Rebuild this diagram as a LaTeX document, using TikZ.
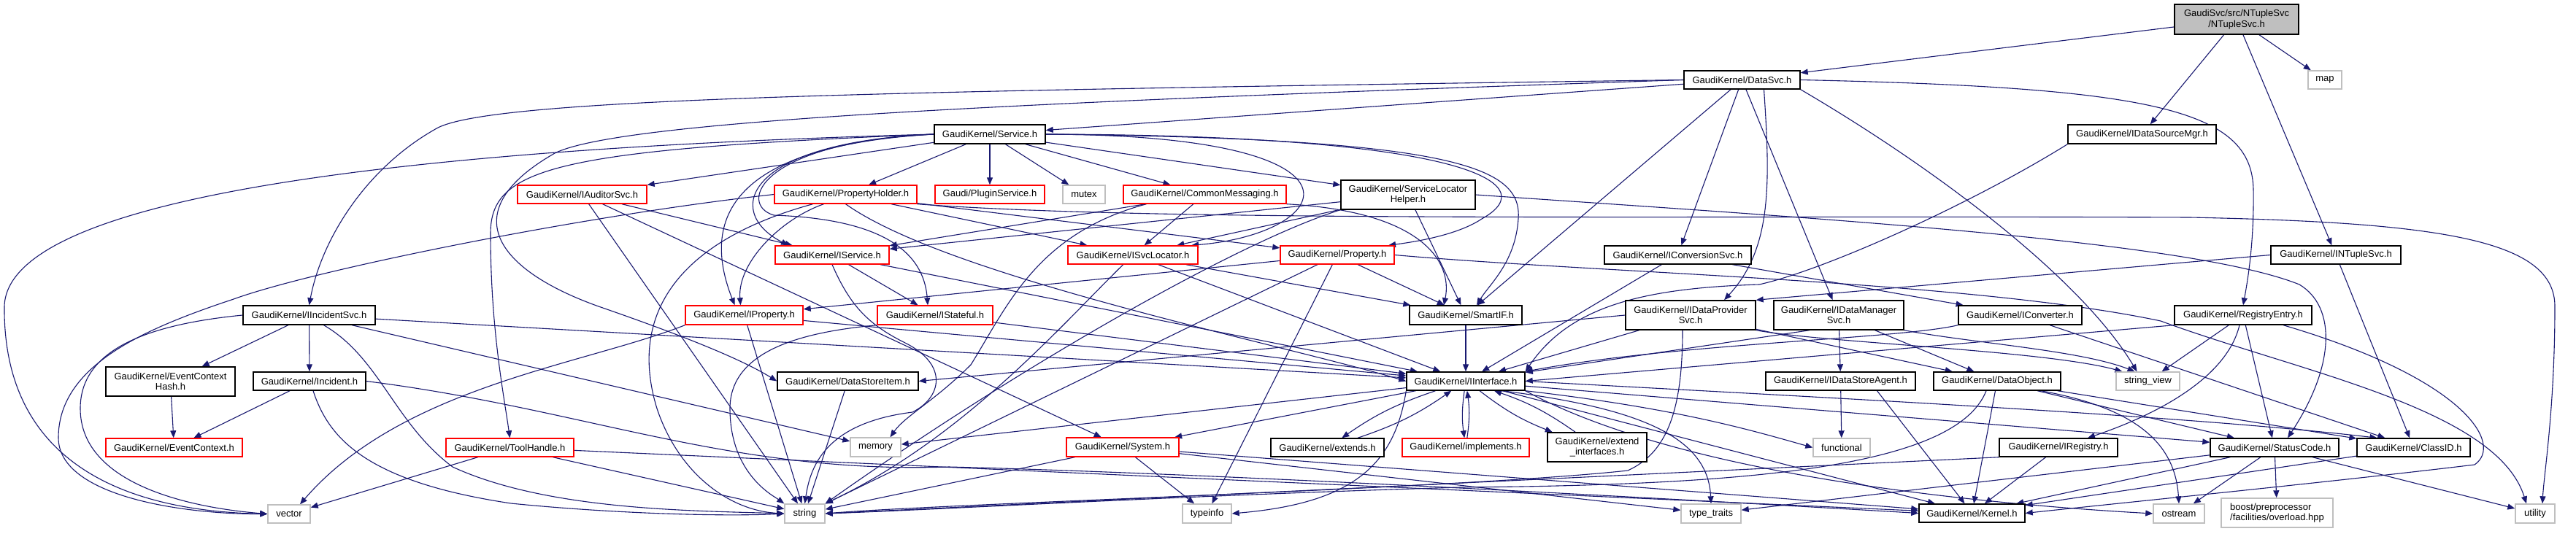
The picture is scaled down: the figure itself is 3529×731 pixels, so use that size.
\documentclass[tikz,border=0pt]{standalone}
\usepackage{fontspec}
\setmainfont{Liberation Sans}
\usetikzlibrary{arrows.meta}
\definecolor{edgec}{HTML}{191970}
\definecolor{grayc}{HTML}{BFBFBF}
\pgfdeclarelayer{bglayer}
\pgfdeclarelayer{edgelayer}
\pgfsetlayers{bglayer,edgelayer,main}
\tikzset{
  box/.style={draw=black, line width=1.4pt, fill=white, inner sep=0pt, align=center, font=\fontsize{13}{14.5}\selectfont},
  rbox/.style={box, draw=red},
  gbox/.style={box, draw=grayc},
  sz/.style 2 args={minimum width=#1pt, minimum height=#2pt},
  e/.style={draw=edgec, line width=1.1pt, -{Triangle[length=10pt,width=8pt]}},
}
\begin{document}
\begin{tikzpicture}[x=1pt,y=-1pt]
\useasboundingbox (0,0) rectangle (3529,731);
\begin{pgfonlayer}{bglayer}
\fill[white] (0,0) rectangle (3529,731);
\end{pgfonlayer}
% nodes
\node[box, fill=grayc, sz={170}{41}] (root) at (3064,26.5) {GaudiSvc/src/NTupleSvc\\/NTupleSvc.h};
\node[box, sz={159}{25}] (datasvc) at (2386.5,109.5) {GaudiKernel/DataSvc.h};
\node[gbox, sz={46}{25}] (map) at (3185,109.5) {map};
\node[box, sz={152}{26}] (service) at (1356,184) {GaudiKernel/Service.h};
\node[box, sz={203}{26}] (idsm) at (2934.5,184) {GaudiKernel/IDataSourceMgr.h};
\node[rbox, sz={177}{25}] (iaud) at (797.5,266.5) {GaudiKernel/IAuditorSvc.h};
\node[rbox, sz={195}{25}] (propholder) at (1158.5,266.5) {GaudiKernel/PropertyHolder.h};
\node[rbox, sz={150}{25}] (pluginsvc) at (1356,266.5) {Gaudi/PluginService.h};
\node[gbox, sz={58}{25}] (mutex) at (1485,266.5) {mutex};
\node[rbox, sz={223}{25}] (commsg) at (1650.5,266.5) {GaudiKernel/CommonMessaging.h};
\node[box, sz={184}{40}] (slh) at (1929,267) {GaudiKernel/ServiceLocator\\Helper.h};
\node[rbox, sz={156}{25}] (iservice) at (1140,349.5) {GaudiKernel/IService.h};
\node[rbox, sz={178}{25}] (isvcloc) at (1552,349.5) {GaudiKernel/ISvcLocator.h};
\node[rbox, sz={156}{25}] (property) at (1832,349.5) {GaudiKernel/Property.h};
\node[box, sz={201}{25}] (iconvsvc) at (2298.5,349.5) {GaudiKernel/IConversionSvc.h};
\node[box, sz={178}{25}] (intuplesvc) at (3200,349.5) {GaudiKernel/INTupleSvc.h};
\node[box, sz={181}{26}] (iincsvc) at (423.5,432) {GaudiKernel/IIncidentSvc.h};
\node[rbox, sz={161}{26}] (iproperty) at (1019.5,432) {GaudiKernel/IProperty.h};
\node[rbox, sz={158}{26}] (istateful) at (1281,432) {GaudiKernel/IStateful.h};
\node[box, sz={154}{26}] (smartif) at (2008,432) {GaudiKernel/SmartIF.h};
\node[box, sz={178}{40}] (idps) at (2316,432) {GaudiKernel/IDataProvider\\Svc.h};
\node[box, sz={178}{40}] (idms) at (2519,432) {GaudiKernel/IDataManager\\Svc.h};
\node[box, sz={169}{26}] (iconverter) at (2767.5,432) {GaudiKernel/IConverter.h};
\node[box, sz={188}{26}] (regentry) at (3073,432) {GaudiKernel/RegistryEntry.h};
\node[box, sz={177}{40}] (echash) at (233.5,523) {GaudiKernel/EventContext\\Hash.h};
\node[box, sz={154}{25}] (incident) at (424,522.5) {GaudiKernel/Incident.h};
\node[box, sz={193}{25}] (dsitem) at (1161.5,522.5) {GaudiKernel/DataStoreItem.h};
\node[box, sz={162}{25}] (iinterface) at (2008,522.5) {GaudiKernel/IInterface.h};
\node[box, sz={205}{25}] (idsagent) at (2521.5,522.5) {GaudiKernel/IDataStoreAgent.h};
\node[box, sz={174}{25}] (dataobject) at (2736,522.5) {GaudiKernel/DataObject.h};
\node[gbox, sz={87}{25}] (stringview) at (2942.5,522.5) {string\_view};
\node[rbox, sz={187}{25}] (evctx) at (238.5,613.5) {GaudiKernel/EventContext.h};
\node[rbox, sz={175}{25}] (toolhandle) at (698.5,613.5) {GaudiKernel/ToolHandle.h};
\node[gbox, sz={69}{26}] (memory) at (1199.5,613) {memory};
\node[rbox, sz={154}{26}] (system) at (1538,613) {GaudiKernel/System.h};
\node[box, sz={155}{25}] (extends) at (1818.5,613.5) {GaudiKernel/extends.h};
\node[rbox, sz={174}{25}] (implements) at (2008,613.5) {GaudiKernel/implements.h};
\node[box, sz={136}{40}] (extint) at (2188,613) {GaudiKernel/extend\\\_interfaces.h};
\node[gbox, sz={78}{25}] (functional) at (2523,613.5) {functional};
\node[box, sz={162}{25}] (iregistry) at (2820,613.5) {GaudiKernel/IRegistry.h};
\node[box, sz={176}{25}] (statuscode) at (3116,613.5) {GaudiKernel/StatusCode.h};
\node[box, sz={155}{25}] (classid) at (3306.5,613.5) {GaudiKernel/ClassID.h};
\node[gbox, sz={58}{25}] (vector) at (396,704.5) {vector};
\node[gbox, sz={55}{26}] (string) at (1102.5,704) {string};
\node[gbox, sz={67}{26}] (typeinfo) at (1653.5,704) {typeinfo};
\node[gbox, sz={82}{26}] (typetraits) at (2344,704) {type\_traits};
\node[box, sz={145}{25}] (kernel) at (2701.5,703.5) {GaudiKernel/Kernel.h};
\node[gbox, sz={70}{26}] (ostream) at (2985,704) {ostream};
\node[gbox, sz={153}{40}, align=left] (boost) at (3119.5,703) {boost/preprocessor\\/facilities/overload.hpp};
\node[gbox, sz={54}{26}] (utility) at (3473,704) {utility};

\begin{pgfonlayer}{edgelayer}
% root
\draw[e] (root) -- (datasvc);
\draw[e] (root) -- (idsm);
\draw[e] (root) -- (intuplesvc);
\draw[e] (root) -- (map);
% DataSvc
\draw[e] (datasvc) -- (service);
\draw[e] (datasvc.west) .. controls (1200,125) and (680,135) .. (600,175) .. controls (500,230) and (440,330) .. (iincsvc.north);
\draw[e] (datasvc.west) .. controls (1400,140) and (850,165) .. (760,210) .. controls (620,290) and (680,370) .. (820,420) .. controls (950,465) and (1020,495) .. (dsitem.west);
\draw[e] (datasvc) -- (smartif);
\draw[e] (datasvc) -- (iconvsvc);
\draw[e] ([xshift=30pt]datasvc.south) .. controls (2425,250) and (2428,340) .. ([xshift=46pt]idps.north);
\draw[e] (datasvc) -- (idms);
\draw[e] (datasvc.east) .. controls (2950,120) and (3085,150) .. (3087,260) .. controls (3088,330) and (3080,380) .. (regentry.north);
\draw[e] (datasvc.south east) .. controls (2650,230) and (2850,380) .. ([xshift=-15pt]stringview.north);
% IDataSourceMgr
\draw[e] (idsm.south west) .. controls (2700,280) and (2500,370) .. (2410,390) .. controls (2250,395) and (2150,420) .. (iinterface.north east);
% Service
\draw[e] (service) -- (iaud);
\draw[e] (service) -- (propholder);
\draw[e] (service) -- (pluginsvc);
\draw[e] (service) -- (mutex);
\draw[e] (service) -- (commsg);
\draw[e] (service) -- (slh);
\draw[e] (service.west) .. controls (1020,195) and (990,290) .. ([xshift=-60pt]iservice.north);
\draw[e] (service.west) .. controls (1000,200) and (960,300) .. ([xshift=-13pt]iproperty.north);
\draw[e] (service.west) .. controls (1040,195) and (1010,280) .. (1060,295) .. controls (1200,300) and (1265,340) .. ([xshift=-10pt]istateful.north);
\draw[e] (service.east) .. controls (1900,185) and (1830,320) .. ([xshift=80pt]isvcloc.north);
\draw[e] (service.east) .. controls (2000,185) and (2120,250) .. (2030,300) .. controls (2000,320) and (1950,330) .. ([xshift=70pt]property.north);
\draw[e] (service.east) .. controls (2000,190) and (2085,230) .. (2080,300) .. controls (2076,360) and (2040,390) .. ([xshift=15pt]smartif.north);
\draw[e] (service.west) .. controls (760,205) and (672,230) .. (672,320) .. controls (672,450) and (690,540) .. (toolhandle.north);
\draw[e] (service.west) .. controls (700,200) and (10,250) .. (6,420) .. controls (4,620) and (150,700) .. (vector.west);
% IAuditorSvc
\draw[e] (iaud) -- (iservice);
\draw[e] (iaud) -- (string);
\draw[e] (iaud) -- (system);
% PropertyHolder
\draw[e] (propholder.west) .. controls (800,295) and (430,370) .. (320,410) .. controls (200,450) and (80,500) .. (80,600) .. controls (80,680) and (250,705) .. (vector.west);
\draw[e] (propholder) -- (isvcloc);
\draw[e] (propholder) -- (property);
\draw[e] ([xshift=-30pt]propholder.south) .. controls (1070,300) and (1010,360) .. ([xshift=-5pt]iproperty.north);
\draw[e] (propholder.south) .. controls (1300,380) and (1750,470) .. (iinterface.west);
\draw[e] ([xshift=-45pt]propholder.south) .. controls (930,330) and (860,430) .. (900,560) .. controls (930,650) and (1000,700) .. (string.west);
\draw[e] (propholder.south east) .. controls (1600,305) and (2300,295) .. (3000,298) .. controls (3350,305) and (3500,330) .. (3500,420) .. controls (3500,560) and (3485,650) .. ([xshift=10pt]utility.north);
% CommonMessaging
\draw[e] (commsg) -- (iservice);
\draw[e] (commsg) -- (isvcloc);
\draw[e] (commsg.south east) .. controls (1950,290) and (1990,360) .. ([xshift=-30pt]smartif.north);
\draw[e] ([xshift=-80pt]commsg.south) .. controls (1420,320) and (1380,420) .. (1330,500) .. controls (1280,550) and (1240,570) .. ([xshift=20pt]memory.north);
% ServiceLocatorHelper
\draw[e] (slh) -- (iservice);
\draw[e] (slh) -- (isvcloc);
\draw[e] (slh) -- (smartif);
\draw[e] (slh.east) .. controls (2500,300) and (3000,330) .. (3150,390) .. controls (3200,420) and (3200,500) .. ([xshift=18pt]statuscode.north);
\draw[e] (slh.south west) .. controls (1700,330) and (1400,500) .. (string.north east);
% IIncidentSvc
\draw[e] (iincsvc) -- (echash);
\draw[e] (iincsvc) -- (incident);
\draw[e] (iincsvc) -- (memory);
\draw[e] (iincsvc) -- (iinterface);
\draw[e] (iincsvc.west) .. controls (200,445) and (110,480) .. (110,560) .. controls (110,660) and (250,695) .. (vector.west);
\draw[e] ([xshift=20pt]iincsvc.south) .. controls (520,490) and (540,580) .. (620,640) .. controls (750,700) and (950,700) .. (string.west);
% Incident
\draw[e] (incident) -- (evctx);
\draw[e] ([xshift=5pt]incident.south) .. controls (450,600) and (500,660) .. (700,690) .. controls (850,705) and (1000,708) .. (string.west);
\draw[e] (incident.east) .. controls (800,560) and (1000,650) .. (1300,640) .. controls (1700,650) and (2400,690) .. (kernel.west);
\draw[e] (echash) -- (evctx);
% IService
\draw[e] (iservice) -- (istateful);
\draw[e] (iservice) -- (iinterface);
\draw[e] (iservice.south) .. controls (1165,420) and (1190,445) .. (1240,470) .. controls (1300,500) and (1290,545) .. (1250,565) .. controls (1130,580) and (1110,640) .. (string.north);
% ISvcLocator
\draw[e] (isvcloc) -- (iinterface);
\draw[e] (isvcloc) -- (smartif);
\draw[e] (isvcloc) .. controls (1450,450) and (1320,600) .. (string.north east);
% Property
\draw[e] (property) -- (iproperty);
\draw[e] (property) -- (smartif);
\draw[e] (property) -- (string);
\draw[e] (property) -- (typeinfo);
\draw[e] (property.east) .. controls (2200,375) and (2700,385) .. (2960,440) .. controls (3150,510) and (3420,560) .. ([xshift=-12pt]utility.north);
% INTupleSvc
\draw[e] (intuplesvc.west) -- (idps.north east);
\draw[e] (intuplesvc) -- (classid);
% IProperty
\draw[e] (iproperty) -- (iinterface);
\draw[e] (iproperty) -- (string);
\draw[e] (iproperty.south west) .. controls (800,500) and (550,530) .. ([xshift=15pt]vector.north);
% IStateful
\draw[e] (istateful) -- (iinterface);
\draw[e] (istateful.south west) .. controls (1100,455) and (1000,480) .. (1000,560) .. controls (1000,650) and (1060,680) .. (string.north west);
% SmartIF
\draw[e] (smartif) -- (iinterface);
% IDataProviderSvc
\draw[e] (idps.west) -- (dsitem.east);
\draw[e] (idps) -- (iinterface);
\draw[e] (idps) -- (dataobject);
\draw[e] ([xshift=-11pt]idps.south) .. controls (2305,560) and (2285,620) .. (2230,645) .. controls (2000,670) and (1300,690) .. (string.east);
\draw[e] (idps.south east) .. controls (2500,470) and (2800,480) .. ([xshift=-35pt]stringview.north);
% IDataManagerSvc
\draw[e] (idms) -- (idsagent);
\draw[e] (idms) -- (dataobject);
\draw[e] ([xshift=-40pt]idms.south) -- (iinterface);
\draw[e] (idms.south east) .. controls (2700,470) and (2850,480) .. ([xshift=-18pt]stringview.north);
% IConversionSvc
\draw[e] (iconvsvc) -- (iinterface);
\draw[e] (iconvsvc) -- (iconverter);
% IConverter
\draw[e] (iconverter.south west) .. controls (2600,465) and (2300,470) .. (iinterface.north east);
\draw[e] (iconverter) -- (classid);
% RegistryEntry
\draw[e] (regentry) -- (stringview);
\draw[e] ([xshift=-5pt]regentry.south) .. controls (3050,520) and (2950,570) .. ([xshift=40pt]iregistry.north);
\draw[e] (regentry) -- (statuscode);
\draw[e] ([xshift=55pt]regentry.south) .. controls (3380,520) and (3430,610) .. (3390,637) .. controls (3200,660) and (2900,690) .. (kernel.east);
\draw[e] (regentry.south west) -- (iinterface.east);
% DataStoreItem
\draw[e] (dsitem) -- (string);
% IInterface
\draw[e] (iinterface) to[bend right=8] (extends);
\draw[e] (extends) to[bend right=8] (iinterface);
\draw[e] (iinterface) to[bend right=8] (implements);
\draw[e] (implements) to[bend right=8] (iinterface);
\draw[e] (iinterface) to[bend right=8] (extint);
\draw[e] (extint) to[bend right=8] (iinterface);
\draw[e] (iinterface) -- (system);
\draw[e] (iinterface) -- (memory);
\draw[e] (iinterface) -- (kernel);
\draw[e] (iinterface) -- (statuscode);
\draw[e] (iinterface.south east) .. controls (2300,650) and (2700,690) .. (ostream.west);
\draw[e] (iinterface.south west) .. controls (1910,640) and (1850,690) .. (typeinfo.east);
\draw[e] ([xshift=50pt]iinterface.south) .. controls (2250,560) and (2340,600) .. (typetraits.north);
\draw[e] (iinterface.south east) .. controls (2300,560) and (2400,590) .. (functional.west);
\draw[e] (iinterface.east) .. controls (2500,545) and (3000,570) .. ([xshift=-50pt]classid.north);
% IDataStoreAgent
\draw[e] (idsagent) -- (functional);
\draw[e] ([xshift=50pt]idsagent.south) -- ([xshift=-10pt]kernel.north);
% DataObject
\draw[e] (dataobject) -- (classid);
\draw[e] (dataobject) -- (statuscode);
\draw[e] ([xshift=60pt]dataobject.south) .. controls (2930,560) and (2980,610) .. (ostream.north);
\draw[e] (dataobject) -- (kernel);
\draw[e] ([xshift=-15pt]dataobject.south) .. controls (2680,640) and (2400,665) .. (2000,668) .. controls (1600,680) and (1300,698) .. (string.east);
% ToolHandle
\draw[e] (toolhandle) -- (vector);
\draw[e] (toolhandle) -- (string);
\draw[e] (toolhandle) -- (kernel);
% System
\draw[e] (system) -- (string);
\draw[e] (system) -- (typeinfo);
\draw[e] (system) -- (kernel);
\draw[e] (system) -- (typetraits);
% IRegistry
\draw[e] (iregistry) -- (kernel);
\draw[e] (iregistry.south west) -- (string.east);
% StatusCode
\draw[e] (statuscode) -- (boost);
\draw[e] (statuscode) -- (ostream);
\draw[e] (statuscode) -- (kernel);
\draw[e] (statuscode) -- (utility);
\draw[e] (statuscode) -- (typetraits);
% ClassID
\draw[e] (classid) -- (kernel);
\end{pgfonlayer}
\end{tikzpicture}
\end{document}
